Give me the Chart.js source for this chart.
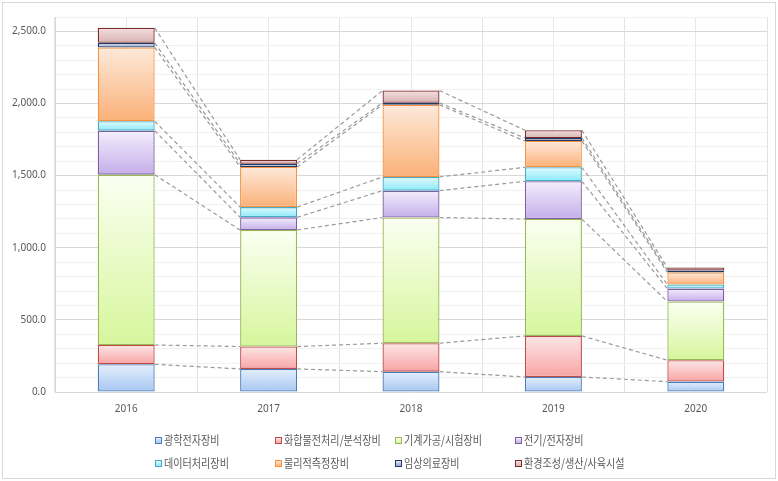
<!DOCTYPE html>
<html><head><meta charset="utf-8">
<script src="https://cdn.jsdelivr.net/npm/chart.js@4.4.1/dist/chart.umd.min.js"></script>
<style>
html,body{margin:0;padding:0;background:#fff;overflow:hidden;}
#wrap{position:relative;width:778px;height:481px;}
#frame{position:absolute;left:2px;top:2px;width:774px;height:477px;border:1px solid #d9d9d9;box-sizing:border-box;pointer-events:none;}
canvas{position:absolute;left:0;top:0;}
#legend{position:absolute;left:0;top:0;width:778px;height:481px;pointer-events:none;font-family:'Noto Sans CJK KR','Noto Sans',sans-serif;font-size:12px;color:#595959;}
.item{position:absolute;white-space:nowrap;display:flex;align-items:center;height:16px;}
.box{width:5px;height:5px;border:1px solid;margin-right:2px;flex:none;}
.txt{display:inline-block;transform:scaleX(0.84);transform-origin:left center;line-height:16px;}
</style></head>
<body><div id="wrap"><canvas id="c" width="778" height="481"></canvas><div id="legend"></div><div id="frame"></div></div>
<script>
const categories = ['2016', '2017', '2018', '2019', '2020'];
const seriesNames = ['광학전자장비', '화합물전처리/분석장비', '기계가공/시험장비', '전기/전자장비', '데이터처리장비', '물리적측정장비', '임상의료장비', '환경조성/생산/사육시설'];
const optical    = [192, 160, 141, 104, 72];
const chemical   = [134, 155, 197, 285, 148];
const machining  = [1181, 808, 872, 810, 407];
const electric   = [305, 88, 186, 262, 90];
const dataProc   = [65, 71, 95, 97, 28];
const physical   = [512, 278, 500, 182, 84];
const clinical   = [32, 23, 14, 21, 13];
const environ    = [104, 28, 85, 54, 21];
const yTickStep = 500;
const yMax = 2600;

const seriesData = [optical, chemical, machining, electric, dataProc, physical, clinical, environ];
// [border, gradient top, gradient bottom]
const colors = [
  ['#4a7ebb', '#e4effc', '#a6c6f1'],
  ['#be4b48', '#fde6e6', '#f8a4a4'],
  ['#98b954', '#fbfff2', '#d6f69c'],
  ['#7d60a0', '#f4eefd', '#c4aee9'],
  ['#46aac5', '#e0fbff', '#8ce8f7'],
  ['#f69240', '#fdeadb', '#fbb078'],
  ['#1f3864', '#e0e6f2', '#98a6cc'],
  ['#7b2a2a', '#f4dfdf', '#d8b2b2']
];

function segGradient(ctx, i) {
  const chart = ctx.chart;
  const y = chart.scales && chart.scales.y;
  const j = ctx.dataIndex;
  if (!y || j === undefined) return colors[i][1];
  let start = 0;
  for (let k = 0; k < i; k++) start += seriesData[k][j];
  const end = start + seriesData[i][j];
  const top = y.getPixelForValue(end), bottom = y.getPixelForValue(start);
  if (!isFinite(top) || !isFinite(bottom) || top === bottom) return colors[i][2];
  const g = chart.ctx.createLinearGradient(0, top, 0, bottom);
  g.addColorStop(0, colors[i][1]);
  g.addColorStop(1, colors[i][2]);
  return g;
}

const seriesLines = {
  id: 'seriesLines',
  beforeDatasetsDraw(chart) {
    const ctx = chart.ctx;
    ctx.save();
    ctx.setLineDash([4, 3]);
    ctx.strokeStyle = '#9a9a9a';
    ctx.lineWidth = 1.2;
    chart.data.datasets.forEach((ds, i) => {
      const meta = chart.getDatasetMeta(i);
      for (let j = 0; j < meta.data.length - 1; j++) {
        const a = meta.data[j], b = meta.data[j + 1];
        ctx.beginPath();
        ctx.moveTo(a.x + a.width / 2, a.y);
        ctx.lineTo(b.x - b.width / 2, b.y);
        ctx.stroke();
      }
    });
    ctx.restore();
  }
};

const tickFont = { family: "'Noto Sans', 'Noto Sans CJK KR', sans-serif", size: 10 };

const chart = new Chart(document.getElementById('c'), {
  type: 'bar',
  data: {
    labels: categories,
    datasets: seriesNames.map((name, i) => ({
      label: name,
      data: seriesData[i],
      backgroundColor: (ctx) => segGradient(ctx, i),
      borderColor: colors[i][0],
      borderWidth: 1.3,
      borderSkipped: false,
      barPercentage: 0.4,
      categoryPercentage: 1.0
    }))
  },
  options: {
    responsive: false,
    devicePixelRatio: 1,
    animation: false,
    layout: { padding: { top: 17, right: 11, bottom: 0, left: 0 } },
    plugins: { legend: { display: false }, tooltip: { enabled: false } },
    scales: {
      x: {
        stacked: true,
        offset: true,
        grid: { offset: true, color: '#e3e3e3', drawTicks: false },
        border: { display: false },
        ticks: { font: tickFont, color: '#595959', padding: 11 },
        afterFit(s) { s.height = 89; }
      },
      x2: {
        type: 'category',
        position: 'top',
        offset: true,
        grid: { offset: false, color: '#e8e8e8', drawTicks: false },
        border: { display: false },
        ticks: { display: false },
        afterFit(s) { s.height = 0; }
      },
      y: {
        stacked: true,
        min: 0,
        max: yMax,
        grid: {
          drawTicks: false,
          color: (c) => (c.tick && c.tick.value % yTickStep === 0) ? '#d9d9d9' : '#f1f1f1'
        },
        border: { display: true, color: '#d9d9d9' },
        ticks: {
          stepSize: 100,
          autoSkip: false,
          padding: 9,
          font: tickFont,
          color: '#595959',
          callback: (v) => v % yTickStep === 0 ? v.toLocaleString('en-US', { minimumFractionDigits: 1, maximumFractionDigits: 1 }) : ''
        },
        afterFit(s) { s.width = 55; }
      }
    }
  },
  plugins: [seriesLines]
});

// HTML legend built from the chart's datasets
const legendCols = [155, 275, 395, 515];
const legendRows = [440, 463];
const legend = document.getElementById('legend');
chart.data.datasets.forEach((ds, i) => {
  const item = document.createElement('div');
  item.className = 'item';
  item.style.left = legendCols[i % 4] + 'px';
  item.style.top = (legendRows[Math.floor(i / 4)] - 8) + 'px';
  const box = document.createElement('span');
  box.className = 'box';
  box.style.borderColor = colors[i][0];
  box.style.background = 'linear-gradient(' + colors[i][1] + ',' + colors[i][2] + ')';
  const txt = document.createElement('span');
  txt.className = 'txt';
  txt.textContent = ds.label;
  item.appendChild(box);
  item.appendChild(txt);
  legend.appendChild(item);
});
</script>
</body></html>
